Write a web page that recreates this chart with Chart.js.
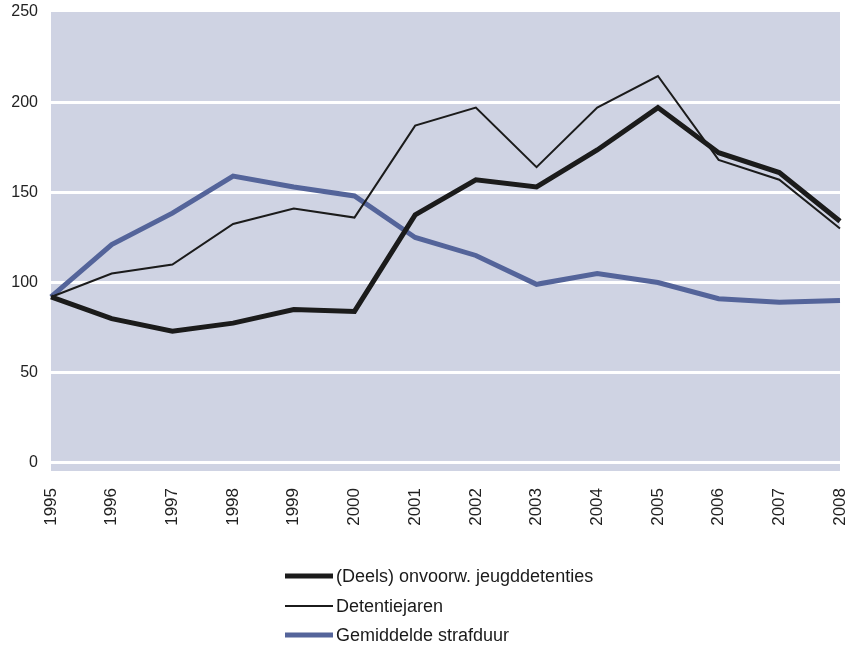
<!DOCTYPE html>
<html>
<head>
<meta charset="utf-8">
<script src="https://cdn.jsdelivr.net/npm/chart.js@4/dist/chart.umd.min.js"></script>
<style>
  html, body { margin: 0; padding: 0; background: #fff; }
  #wrap { width: 857px; height: 647px; }
</style>
</head>
<body>
<div id="wrap"><canvas id="chart"></canvas></div>
<script>
// data
const years = ['1995', '1996', '1997', '1998', '1999', '2000', '2001', '2002', '2003', '2004', '2005', '2006', '2007', '2008'];
const jeugddetenties = [92, 80, 73, 77.5, 85, 84, 137.5, 157, 153, 173.5, 197, 172, 161, 134];
const detentiejaren = [92, 105, 110, 132.5, 141, 136, 187, 197, 164, 197, 214.5, 168, 157, 130];
const strafduur = [92, 121, 138.5, 159, 153, 148, 125, 115, 99, 105, 100, 91, 89, 90];
const yTicks = [0, 50, 100, 150, 200, 250];

const plotBg = '#cfd3e3';
const blue = '#54649a';
const black = '#1b1b1b';

// plot area background
const areaBg = {
  id: 'areaBg',
  beforeDraw(chart) {
    const { ctx, chartArea: a } = chart;
    ctx.save();
    ctx.fillStyle = plotBg;
    ctx.fillRect(a.left, a.top, a.right - a.left, a.bottom - a.top);
    ctx.restore();
  }
};

// legend drawn as a left aligned column under the chart
const columnLegend = {
  id: 'columnLegend',
  afterDraw(chart) {
    const ctx = chart.ctx;
    const x0 = 285, lineLen = 48, rowY = [576, 606, 635];
    ctx.save();
    ctx.font = '18px "Liberation Sans", Arial, sans-serif';
    ctx.textBaseline = 'middle';
    chart.data.datasets.forEach((ds, i) => {
      ctx.strokeStyle = ds.borderColor;
      ctx.lineWidth = ds.borderWidth;
      ctx.beginPath();
      ctx.moveTo(x0, rowY[i]);
      ctx.lineTo(x0 + lineLen, rowY[i]);
      ctx.stroke();
      ctx.fillStyle = '#1a1a1a';
      ctx.fillText(ds.label, x0 + lineLen + 3, rowY[i] + 1);
    });
    ctx.restore();
  }
};

new Chart(document.getElementById('chart'), {
  type: 'line',
  data: {
    labels: years,
    datasets: [
      { label: '(Deels) onvoorw. jeugddetenties', data: jeugddetenties, borderColor: black, borderWidth: 5 },
      { label: 'Detentiejaren', data: detentiejaren, borderColor: black, borderWidth: 2 },
      { label: 'Gemiddelde strafduur', data: strafduur, borderColor: blue, borderWidth: 5 }
    ]
  },
  options: {
    responsive: true,
    maintainAspectRatio: false,
    animation: false,
    layout: { padding: { left: 0, right: 17, top: 12, bottom: 100 } },
    elements: {
      point: { radius: 0, hoverRadius: 0 },
      line: { tension: 0, fill: false, borderJoinStyle: 'miter', borderCapStyle: 'butt' }
    },
    plugins: {
      legend: { display: false },
      tooltip: { enabled: false }
    },
    scales: {
      x: {
        offset: false,
        grid: { display: false },
        border: { display: false },
        ticks: {
          minRotation: 90, maxRotation: 90, padding: 9,
          color: '#222', font: { family: '"Liberation Sans", Arial, sans-serif', size: 17 }
        },
        afterFit(scale) {
          scale.height = 76;
          scale.paddingLeft = 0;
          scale.paddingRight = 0;
        }
      },
      y: {
        min: -4.5,
        max: 250,
        afterBuildTicks(scale) { scale.ticks = yTicks.map(v => ({ value: v })); },
        grid: {
          drawTicks: false,
          lineWidth: 3,
          color: ctx => (ctx.tick && ctx.tick.value === 250 ? 'rgba(0,0,0,0)' : '#ffffff')
        },
        border: { display: false },
        ticks: {
          padding: 13,
          color: '#222', font: { family: '"Liberation Sans", Arial, sans-serif', size: 16 }
        },
        afterFit(scale) {
          scale.width = 51;
          scale.paddingTop = 0;
          scale.paddingBottom = 0;
        }
      }
    }
  },
  plugins: [areaBg, columnLegend]
});
</script>
</body>
</html>
